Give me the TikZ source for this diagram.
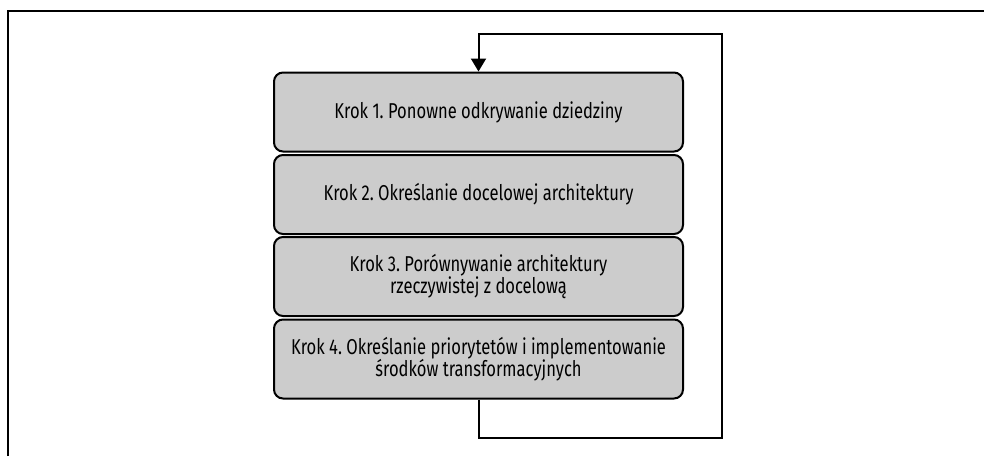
\documentclass[tikz,border=0pt]{standalone}
\usepackage{fontspec}
\setmainfont[FakeStretch=0.77]{Fira Sans}
\frenchspacing
\usetikzlibrary{arrows.meta}
\definecolor{boxgray}{HTML}{CCCCCC}
\tikzset{
  stepbox/.style={draw=black, line width=2pt, fill=boxgray, rounded corners=9pt,
    minimum width=409pt, minimum height=79pt, inner sep=0pt, align=center,
    font=\fontsize{21.5}{22}\selectfont},
  loopline/.style={draw=black, line width=2pt},
  frameline/.style={draw=black, line width=1.5pt}
}
\begin{document}
\begin{tikzpicture}[x=1pt,y=-1pt]
\useasboundingbox (0,0) rectangle (984,456);
\draw[frameline] (8,456) -- (8,11) -- (984,11);
\node[stepbox] (b1) at (478.5,112) {Krok 1. Ponowne odkrywanie dziedziny};
\node[stepbox] (b2) at (478.5,194.5) {Krok 2. Określanie docelowej architektury};
\node[stepbox] (b3) at (478.5,276.5) {Krok 3. Porównywanie architektury\\rzeczywistej z docelową};
\node[stepbox] (b4) at (478.5,359) {Krok 4. Określanie priorytetów i implementowanie\\środków transformacyjnych};
\coordinate (c1) at (478.5,438);
\coordinate (c2) at (722,438);
\coordinate (c3) at (722,34);
\coordinate (c4) at (478.5,34);
\draw[loopline, -{Triangle[width=15pt,length=13pt]}] (b4.south) -- (c1) -- (c2) -- (c3) -- (c4) -- (b1.north);
\end{tikzpicture}
\end{document}
